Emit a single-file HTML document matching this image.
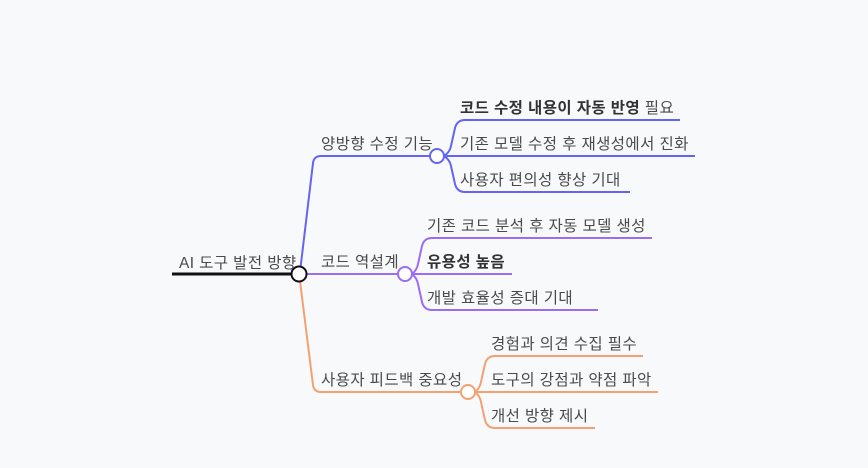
<!DOCTYPE html>
<html><head><meta charset="utf-8"><style>
body{margin:0;background:#f8f9fb;}
svg{display:block}
text{font-family:"Liberation Sans","Noto Sans CJK KR",sans-serif;font-size:15.5px;letter-spacing:0.4px;fill:#4a4a4a;}
.b{font-weight:bold;fill:#333}
</style></head><body>
<svg width="868" height="468" viewBox="0 0 868 468">
<rect width="868" height="468" fill="#f8f9fb"/>
<g fill="none" stroke-width="2">
<g stroke="#6464f4">
<path d="M300,272 L313,163 Q314,156 321,156 L430,156"/>
<path d="M444,156 Q450,152 451,146 L455,128 Q457,120 465,120 L680,120"/>
<path d="M444,156 L695,156"/>
<path d="M444,156 Q450,160 451,166 L455,184 Q457,192 465,192 L630,192"/>
</g>
<g stroke="#9b6cf4">
<path d="M306,274 L398,274"/>
<path d="M412,274 Q417,270 418,264 L422,246 Q424,238 432,238 L652,238"/>
<path d="M412,274 L512,274"/>
<path d="M412,274 Q417,278 418,284 L422,302 Q424,310 432,310 L598,310"/>
</g>
<g stroke="#f5a070">
<path d="M300,281 L313,385 Q314,392 321,392 L461,392"/>
<path d="M475,392 Q480,388 481,382 L485,364 Q487,356 495,356 L643,356"/>
<path d="M475,392 L658,392"/>
<path d="M475,392 Q480,396 481,402 L485,420 Q487,428 495,428 L595,428"/>
</g>
<path d="M172,274 L291,274" stroke="#111" stroke-width="3"/>
</g>
<circle cx="299" cy="274" r="7.5" fill="#fff" stroke="#111" stroke-width="2"/>
<circle cx="437" cy="156" r="7" fill="#fff" stroke="#6464f4" stroke-width="2"/>
<circle cx="405" cy="274" r="7" fill="#fff" stroke="#9b6cf4" stroke-width="2"/>
<circle cx="468" cy="392" r="7" fill="#fff" stroke="#f5a070" stroke-width="2"/>
<text x="179" y="268">AI 도구 발전 방향</text>
<text x="321" y="149">양방향 수정 기능</text>
<text x="321" y="267">코드 역설계</text>
<text x="321" y="385">사용자 피드백 중요성</text>
<text x="460" y="113"><tspan class="b">코드 수정 내용이 자동 반영</tspan> 필요</text>
<text x="460" y="149">기존 모델 수정 후 재생성에서 진화</text>
<text x="460" y="185">사용자 편의성 향상 기대</text>
<text x="427" y="231">기존 코드 분석 후 자동 모델 생성</text>
<text x="427" y="267" class="b">유용성 높음</text>
<text x="427" y="303">개발 효율성 증대 기대</text>
<text x="491" y="349">경험과 의견 수집 필수</text>
<text x="491" y="385">도구의 강점과 약점 파악</text>
<text x="491" y="421">개선 방향 제시</text>
</svg>
</body></html>
